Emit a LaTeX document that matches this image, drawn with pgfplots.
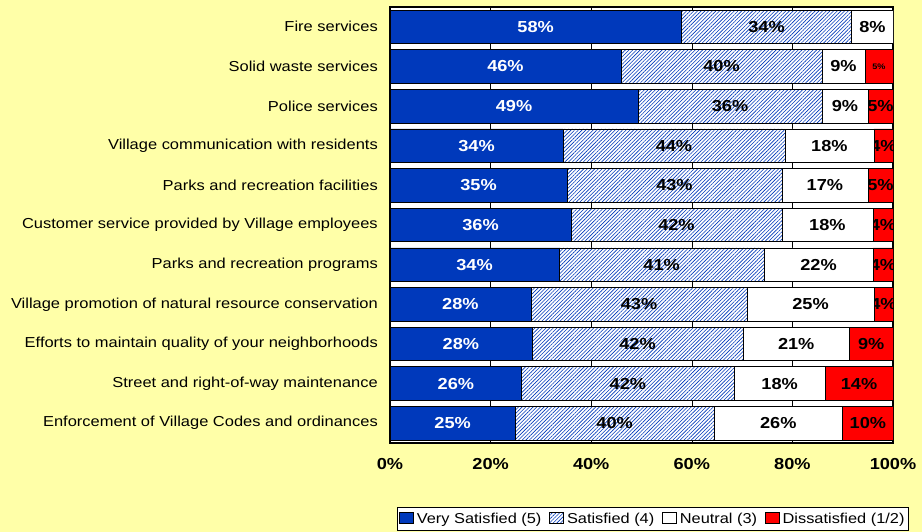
\documentclass[border=0pt]{standalone}
\usepackage{fontspec}
\setmainfont{Liberation Sans}[FakeStretch=1.14]
\usepackage{pgfplots}
\pgfplotsset{compat=1.18}
\usepackage{pgfplotstable}
\usetikzlibrary{patterns.meta}

\definecolor{bgyellow}{HTML}{FFFFA8}
\definecolor{vsblue}{HTML}{0039BB}
\definecolor{dsred}{HTML}{FF0000}

% very satisfied / satisfied / neutral / dissatisfied, top row first
\pgfplotstableread{
vs   s    n    d    vsl   sl    nl    dl
57.9 33.9 8.2  0.0  58\%  34\%  8\%   {}
45.9 40.0 8.5  5.6  46\%  40\%  9\%   {\fontsize{8}{9}\selectfont5\%}
49.3 36.6 9.1  5.0  49\%  36\%  9\%   5\%
34.4 44.1 17.7 3.8  34\%  44\%  18\%  4\%
35.2 42.7 17.1 5.0  35\%  43\%  17\%  5\%
36.0 41.9 18.1 4.0  36\%  42\%  18\%  4\%
33.6 40.8 21.6 4.0  34\%  41\%  22\%  4\%
28.0 43.0 25.2 3.8  28\%  43\%  25\%  4\%
28.2 42.0 21.1 8.7  28\%  42\%  21\%  9\%
26.2 42.2 18.1 13.5 26\%  42\%  18\%  14\%
24.9 39.5 25.6 10.0 25\%  40\%  26\%  10\%
}\satdata

\begin{document}
\begin{tikzpicture}[x=1bp,y=1bp]
\fill[bgyellow] (0,0) rectangle (922,532);
\begin{axis}[
  at={(390bp,89bp)}, anchor=south west,
  scale only axis, width=503bp, height=436bp,
  xbar stacked, bar width=33.5bp,
  xmin=0, xmax=100, ymin=-0.5, ymax=10.5, y dir=reverse,
  xtick={0,20,...,100},
  xticklabels={0\%,20\%,40\%,60\%,80\%,100\%},
  ytick={0,...,10},
  yticklabels={Fire services, Solid waste services, Police services,
    Village communication with residents, Parks and recreation facilities,
    Customer service provided by Village employees, Parks and recreation programs,
    Village promotion of natural resource conservation,
    Efforts to maintain quality of your neighborhoods,
    Street and right-of-way maintenance,
    Enforcement of Village Codes and ordinances},
  major tick length=0pt,
  xticklabel style={font=\bfseries\fontsize{16}{18}\selectfont, inner sep=0pt, anchor=north, yshift=-15bp},
  yticklabel style={font=\fontsize{14.5}{16}\selectfont, inner sep=0pt, anchor=east, xshift=-12bp},
  xmajorgrids, grid style={black, line width=0.6bp},
  axis background/.style={fill=white},
  axis line style={black, line width=1.6bp},
  clip marker paths=true,
  nodes near coords, point meta=explicit symbolic,
  every node near coord/.append style={font=\bfseries\fontsize{16}{18}\selectfont, anchor=center},
  legend image code/.code={\draw[#1, draw=black, line width=0.6bp] (0bp,-4.5bp) rectangle (14bp,6.5bp);},
  legend style={at={(axis description cs:0.0139,-0.1468)}, anchor=north west,
    legend columns=-1, draw=black, line width=0.6bp, fill=white,
    font=\fontsize{14.4}{16}\selectfont, inner xsep=2bp, inner ysep=3.5bp,
    /tikz/every odd column/.append style={column sep=1bp},
    /tikz/every even column/.append style={column sep=6bp}},
]
\addplot[fill=vsblue, draw=black, line width=0.6bp,
  every node near coord/.append style={text=white}]
  table[x=vs, y expr=\coordindex, meta=vsl]{\satdata};
\addplot[fill=white, postaction={pattern={Lines[angle=45, distance=2.6bp, line width=0.6bp]}, pattern color=vsblue},
  draw=black, line width=0.6bp,
  every node near coord/.append style={text=black}]
  table[x=s, y expr=\coordindex, meta=sl]{\satdata};
\addplot[fill=white, draw=black, line width=0.6bp,
  every node near coord/.append style={text=black}]
  table[x=n, y expr=\coordindex, meta=nl]{\satdata};
\addplot[fill=dsred, draw=black, line width=0.6bp,
  every node near coord/.append style={text=black}]
  table[x=d, y expr=\coordindex, meta=dl]{\satdata};
\legend{Very Satisfied (5), Satisfied (4), Neutral (3), Dissatisfied (1/2)}
\end{axis}
\pgfresetboundingbox
\path (0,0) rectangle (922,532);
\end{tikzpicture}
\end{document}
